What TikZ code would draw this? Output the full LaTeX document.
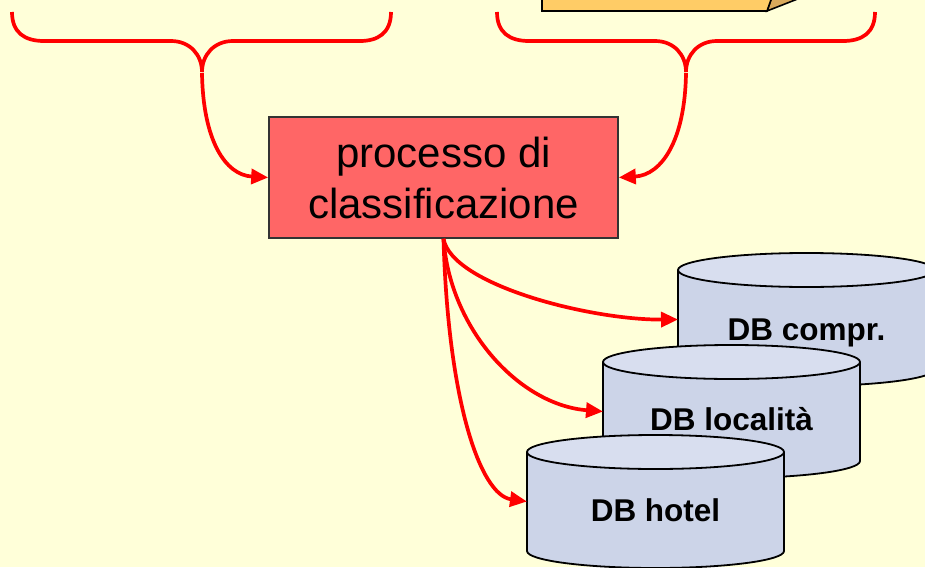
\documentclass[tikz,border=0pt]{standalone}
\usepackage{fontspec}
\setmainfont{Liberation Sans}
\usetikzlibrary{arrows.meta}
\definecolor{bg}{HTML}{FFFFD9}
\definecolor{procfill}{HTML}{FF6666}
\definecolor{cylbody}{HTML}{CCD4E8}
\definecolor{cyltop}{HTML}{D8DEEF}
\definecolor{orangefront}{HTML}{FFCC66}
\definecolor{orangeside}{HTML}{D9A95B}
\newcommand\dbcyl[1]{%
  \fill[cylbody] (#1.north west) -- (#1.south west)
    arc[start angle=180,end angle=360,x radius=128.5pt,y radius=17pt]
    -- (#1.north east) -- cycle;
  \draw[cylline] (#1.north west) -- (#1.south west)
    arc[start angle=180,end angle=360,x radius=128.5pt,y radius=17pt]
    -- (#1.north east);
  \filldraw[cylline,fill=cyltop] (#1.north) ellipse[x radius=128.5pt,y radius=17pt];
}
\begin{document}
\begin{tikzpicture}[x=1pt,y=-1pt,
  redline/.style={draw=red,line width=3.7pt},
  redarrow/.style={draw=red,line width=3.7pt,-{Triangle[length=17pt,width=15pt]},fill=none},
  cylline/.style={draw=black,line width=1.8pt},
  cylnode/.style={minimum width=257pt,minimum height=99pt,inner sep=0pt,outer sep=0pt},
  dbtext/.style={font=\bfseries\fontsize{31.5}{36}\selectfont,anchor=base,inner sep=0pt},
  procbox/.style={draw=black!80,line width=1.6pt,fill=procfill,minimum width=349pt,
    minimum height=121pt,inner sep=0pt,align=center,font=\fontsize{42}{51}\selectfont},
  boxline/.style={draw=black,line width=1.6pt}]
\useasboundingbox (0,0) rectangle (925,567);
\fill[bg] (0,0) rectangle (925,567);
\begin{scope}
\clip (0,0) rectangle (925,567);
% orange box (top, cropped)
\filldraw[boxline,fill=orangeside] (767,11) -- (795,0) -- (846,-20) -- (778,-20) -- cycle;
\filldraw[boxline,fill=orangefront] (542,-20) -- (542,11) -- (767,11) -- (778,-20) -- cycle;
% braces
\draw[redline] (12,12) .. controls (12,33) and (25,41) .. (44,41) -- (171,41)
  .. controls (190,41) and (202,55) .. (202,72);
\draw[redline] (391,12) .. controls (391,33) and (378,41) .. (360,41) -- (233,41)
  .. controls (214,41) and (202,55) .. (202,72);
\draw[redline] (497,12) .. controls (497,33) and (510,41) .. (529,41) -- (655,41)
  .. controls (674,41) and (686,55) .. (686,72);
\draw[redline] (875,12) .. controls (875,33) and (862,41) .. (843,41) -- (717,41)
  .. controls (698,41) and (686,55) .. (686,72);
\coordinate (lt) at (202,73);
\coordinate (rt) at (686,73);
% process box
\node[procbox] (proc) at (443.5,177.5) {processo di\\classificazione};
\draw[redarrow] (lt) .. controls (203,140) and (225,175) .. (proc.west);
\draw[redarrow] (rt) .. controls (685,140) and (662,175) .. (proc.east);
% databases
\node[cylnode] (compr) at (806.5,319.5) {};
\dbcyl{compr}
\node[dbtext] (comprlabel) at (806.5,340) {DB compr.};
\node[cylnode] (loc) at (731.5,411.5) {};
\dbcyl{loc}
\node[dbtext] (loclabel) at (731.5,430) {DB località};
\node[cylnode] (hotel) at (655.5,501.5) {};
\dbcyl{hotel}
\node[dbtext] (hotellabel) at (655.5,521) {DB hotel};
% arrows to databases
\draw[redarrow] (proc.south) .. controls (452,285) and (590,320) .. (compr.west);
\draw[redarrow] (proc.south) .. controls (450,330) and (520,405) .. (loc.west);
\draw[redarrow] (proc.south) .. controls (448,400) and (480,495) .. (hotel.west);
\end{scope}
\end{tikzpicture}
\end{document}
